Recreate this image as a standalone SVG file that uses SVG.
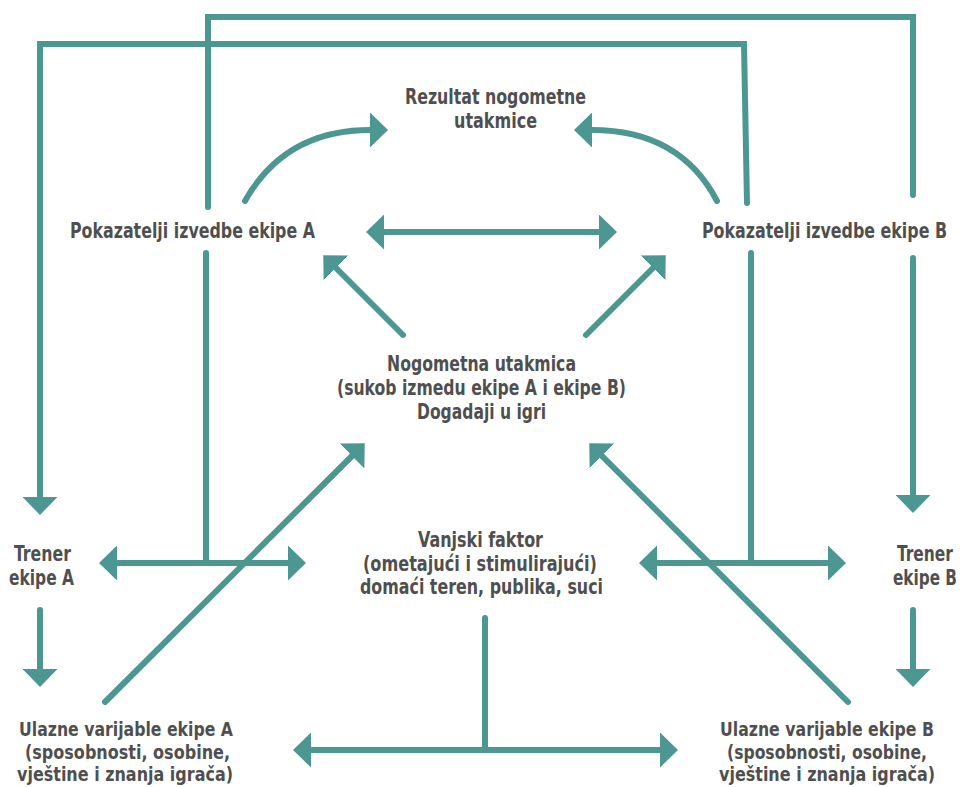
<svg xmlns="http://www.w3.org/2000/svg" width="961" height="787" viewBox="0 0 961 787">
<style>
.c{fill:none;stroke:#4d9792;stroke-width:6;stroke-linecap:round;stroke-linejoin:miter}
.a{marker-end:url(#h)}
.d{marker-start:url(#h);marker-end:url(#h)}
text{font-family:"DejaVu Sans Condensed","DejaVu Sans","Liberation Sans",sans-serif;font-stretch:condensed;font-weight:bold;font-size:18px;fill:#4f4f4f}
.e{text-anchor:end}
</style>
<defs>
<marker id="h" viewBox="0 0 18 35" markerWidth="18" markerHeight="35" refX="0" refY="17.5" markerUnits="userSpaceOnUse" orient="auto-start-reverse">
<path d="M0,0 L18,17.5 L0,35 Z" fill="#4d9792"/>
</marker>
</defs>
<rect width="961" height="787" fill="#fff"/>
<g id="connectors">
<path class="c" d="M208,207 L208,17 L913,17 L913,195"/>
<path class="c a" d="M913,258 L913,495"/>
<path class="c a" d="M747,203 L744,44 L40,44 L40,497"/>
<path class="c a" d="M245,201 Q285,130 370,130"/>
<path class="c a" d="M717,201 Q680,130 592,130"/>
<path class="c d" d="M384,232 L599,232"/>
<path class="c a" d="M403,335 L336,268"/>
<path class="c a" d="M586,335 L653,268"/>
<path class="c a" d="M105,702 L352,456"/>
<path class="c a" d="M848,702 L602,456"/>
<path class="c" d="M206,253 L206,563"/>
<path class="c d" d="M117,563 L288,563"/>
<path class="c" d="M751,253 L751,563"/>
<path class="c d" d="M657,563 L828,563"/>
<path class="c a" d="M40,610 L40,669"/>
<path class="c a" d="M913,610 L913,669"/>
<path class="c" d="M485,618 L485,750"/>
<path class="c d" d="M311,750 L660,750"/>
</g>
<g id="rezultat" transform="scale(1 1.17)">
<text x="405" y="88.9" textLength="181" lengthAdjust="spacingAndGlyphs">Rezultat nogometne</text>
<text x="454" y="109.4" textLength="83" lengthAdjust="spacingAndGlyphs">utakmice</text>
</g>
<g id="pokazatelji-a" transform="scale(1 1.17)">
<text x="70" y="203.4" textLength="245" lengthAdjust="spacingAndGlyphs">Pokazatelji izvedbe ekipe A</text>
</g>
<g id="pokazatelji-b" transform="scale(1 1.17)">
<text class="e" x="947" y="203.4" textLength="245" lengthAdjust="spacingAndGlyphs">Pokazatelji izvedbe ekipe B</text>
</g>
<g id="utakmica" transform="scale(1 1.17)">
<text x="387" y="317.1" textLength="189" lengthAdjust="spacingAndGlyphs">Nogometna utakmica</text>
<text x="337" y="337.6" textLength="289" lengthAdjust="spacingAndGlyphs">(sukob izmedu ekipe A i ekipe B)</text>
<text x="417" y="358.1" textLength="129" lengthAdjust="spacingAndGlyphs">Dogadaji u igri</text>
</g>
<g id="vanjski" transform="scale(1 1.17)">
<text x="418" y="467.5" textLength="125" lengthAdjust="spacingAndGlyphs">Vanjski faktor</text>
<text x="363" y="488" textLength="234" lengthAdjust="spacingAndGlyphs">(ometajući i stimulirajući)</text>
<text x="360" y="507.7" textLength="243" lengthAdjust="spacingAndGlyphs">domaći teren, publika, suci</text>
</g>
<g id="trener-a" transform="scale(1 1.17)">
<text x="14" y="479.5" textLength="57" lengthAdjust="spacingAndGlyphs">Trener</text>
<text x="9" y="500" textLength="65" lengthAdjust="spacingAndGlyphs">ekipe A</text>
</g>
<g id="trener-b" transform="scale(1 1.17)">
<text class="e" x="953" y="479.5" textLength="56" lengthAdjust="spacingAndGlyphs">Trener</text>
<text class="e" x="957" y="500" textLength="64" lengthAdjust="spacingAndGlyphs">ekipe B</text>
</g>
<g id="ulazne-a" transform="scale(1 1.04)">
<text x="19" y="707.7" textLength="214" lengthAdjust="spacingAndGlyphs">Ulazne varijable ekipe A</text>
<text x="25" y="729.8" textLength="205" lengthAdjust="spacingAndGlyphs">(sposobnosti, osobine,</text>
<text x="17" y="751" textLength="216" lengthAdjust="spacingAndGlyphs">vještine i znanja igrača)</text>
</g>
<g id="ulazne-b" transform="scale(1 1.04)">
<text class="e" x="934" y="707.7" textLength="214" lengthAdjust="spacingAndGlyphs">Ulazne varijable ekipe B</text>
<text class="e" x="927" y="729.8" textLength="200" lengthAdjust="spacingAndGlyphs">(sposobnosti, osobine,</text>
<text class="e" x="935" y="751" textLength="216" lengthAdjust="spacingAndGlyphs">vještine i znanja igrača)</text>
</g>
</svg>
